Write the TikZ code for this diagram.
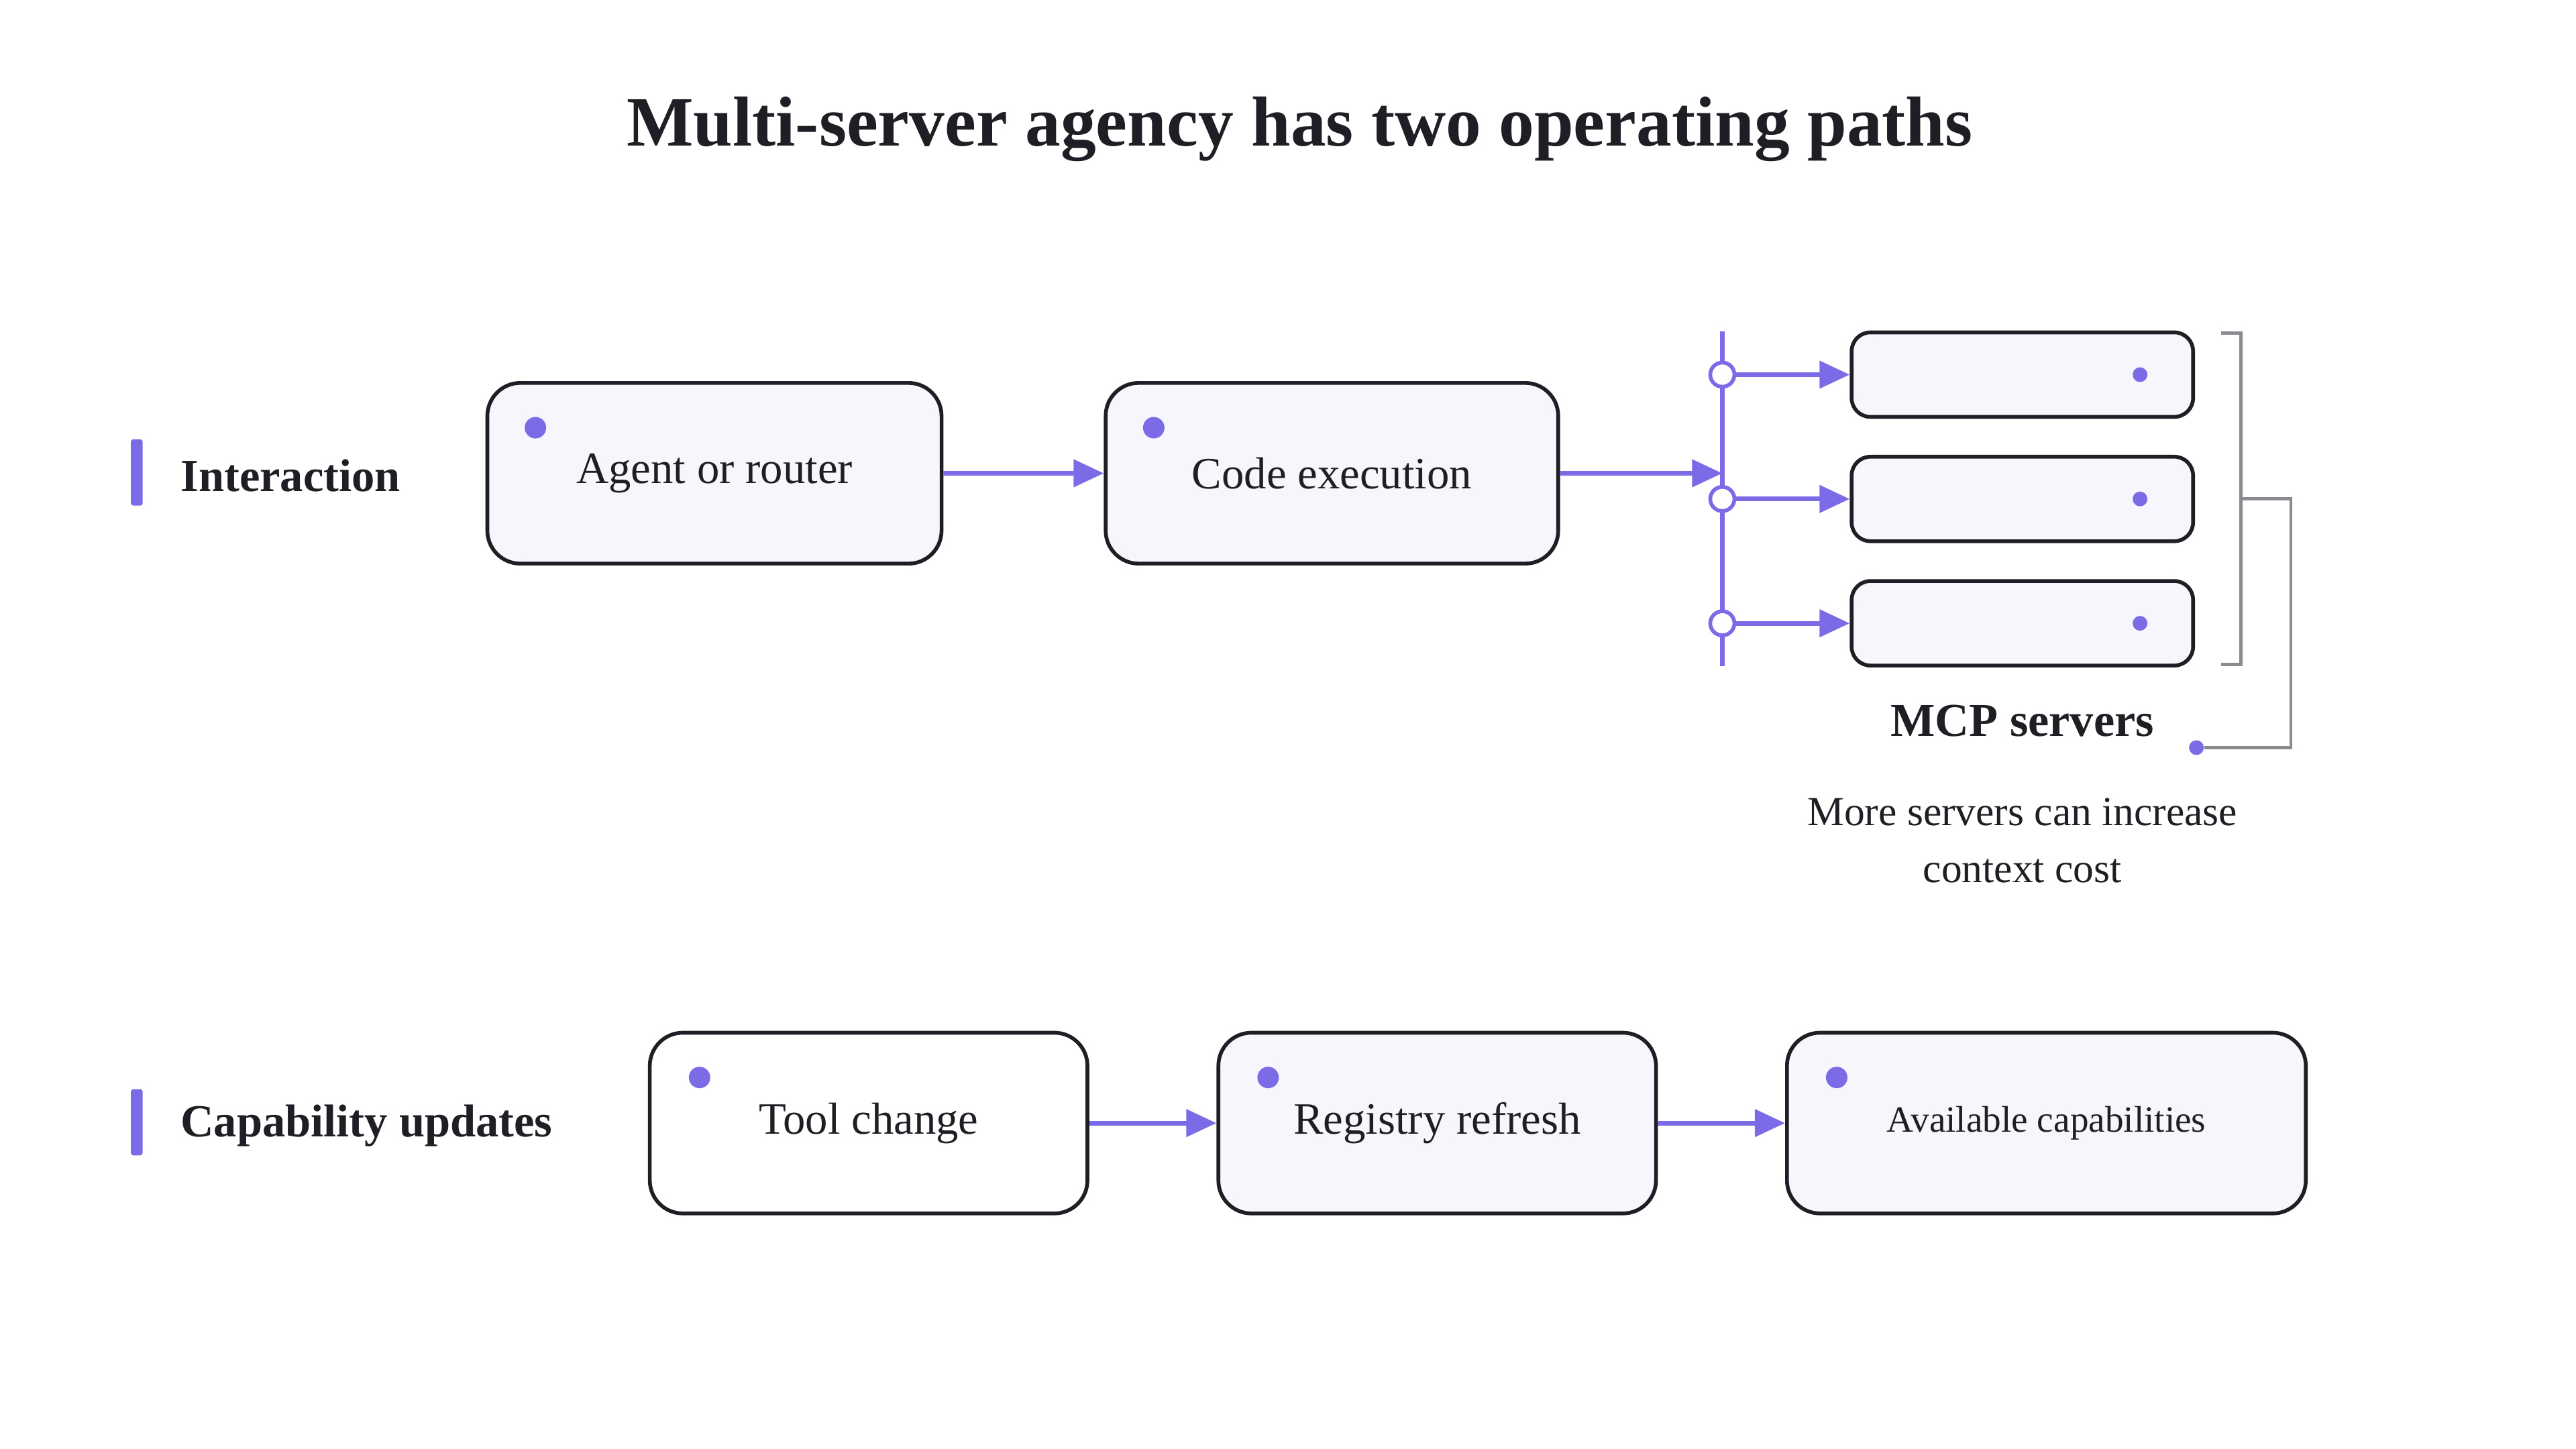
\documentclass[tikz,border=0pt]{standalone}
\usepackage{fontspec}
\setmainfont{Liberation Serif}
\usetikzlibrary{arrows.meta}
\definecolor{pur}{HTML}{7B6BE6}
\definecolor{boxfill}{HTML}{F6F6FC}
\definecolor{ink}{HTML}{1E1E24}
\definecolor{brk}{HTML}{8A8A90}
\tikzset{
 box/.style={draw=ink,line width=1.6pt,rounded corners=14pt,fill=boxfill,inner sep=0pt},
 whitebox/.style={box,fill=white},
 dotn/.style={circle,fill=pur,inner sep=0pt,minimum size=0.32cm},
 sdot/.style={circle,fill=pur,inner sep=0pt,minimum size=0.22cm},
 ring/.style={circle,draw=pur,fill=white,line width=1.6pt,inner sep=0pt,minimum size=0.36cm},
 conn/.style={draw=pur,line width=2pt,-{Triangle[length=0.45cm,width=0.4cm]}},
 lbl/.style={font=\fontsize{19}{22}\selectfont,text=ink},
 bar/.style={fill=pur,rounded corners=1pt},
 head/.style={font=\bfseries\fontsize{19.5}{22}\selectfont,text=ink,anchor=west},
}
\begin{document}
\begin{tikzpicture}[x=0.02471cm,y=-0.02471cm]
\useasboundingbox[fill=white] (0,0) rectangle (1554,874);
\node[font=\bfseries\fontsize{30}{34}\selectfont,text=ink] (title) at (784,78) {Multi-server agency has two operating paths};
% interaction
\fill[bar] (79,265) rectangle (86,305);
\node[head] (hint) at (104,287) {Interaction};
\node[box,minimum width=274*0.02471cm,minimum height=109*0.02471cm] (agent) at (431,285.5) {};
\node[lbl] at (agent.center) {Agent or router};
\node[dotn] at (323,258) {};
\node[box,minimum width=273*0.02471cm,minimum height=109*0.02471cm] (code) at (803.5,285.5) {};
\node[lbl] at (code.center) {Code execution};
\node[dotn] at (696,258) {};
\draw[conn] (agent) -- (code);
\coordinate (bus) at (1039,285.5);
\draw[conn] (code.east) -- (bus);
\draw[draw=pur,line width=2pt] (1039,200) -- (1039,402);
\foreach \i/\y in {1/226,2/301,3/376}{
 \node[box,minimum width=206*0.02471cm,minimum height=51*0.02471cm,rounded corners=8pt] (s\i) at (1220,\y) {};
 \node[sdot] at (1291,\y) {};
 \node[ring] (r\i) at (1039,\y) {};
 \draw[conn] (r\i) -- (s\i);
}
\draw[brk,line width=1.4pt] (1340,201) -- (1352,201) -- (1352,401) -- (1340,401);
\node[sdot] (md) at (1325,451) {};
\draw[brk,line width=1.4pt] (1352,301) -- (1382,301) -- (1382,451) -- (md);
\node[font=\bfseries\fontsize{20}{22}\selectfont,text=ink] (mcp) at (1220,435) {MCP servers};
\node[lbl,align=center,font=\fontsize{17.5}{24}\selectfont] (note) at (1220,507) {More servers can increase\\context cost};
% capability
\fill[bar] (79,657) rectangle (86,697);
\node[head] (hcap) at (104,679) {Capability updates};
\node[whitebox,minimum width=264*0.02471cm,minimum height=109*0.02471cm] (tool) at (524,677.5) {};
\node[lbl] at (tool.center) {Tool change};
\node[dotn] at (422,650) {};
\node[box,minimum width=264*0.02471cm,minimum height=109*0.02471cm] (reg) at (867,677.5) {};
\node[lbl] at (reg.center) {Registry refresh};
\node[dotn] at (765,650) {};
\node[box,minimum width=313*0.02471cm,minimum height=109*0.02471cm] (avail) at (1234.5,677.5) {};
\node[lbl,font=\fontsize{15.7}{18}\selectfont] at (avail.center) {Available capabilities};
\node[dotn] at (1108,650) {};
\draw[conn] (tool) -- (reg);
\draw[conn] (reg) -- (avail);
\end{tikzpicture}
\end{document}
